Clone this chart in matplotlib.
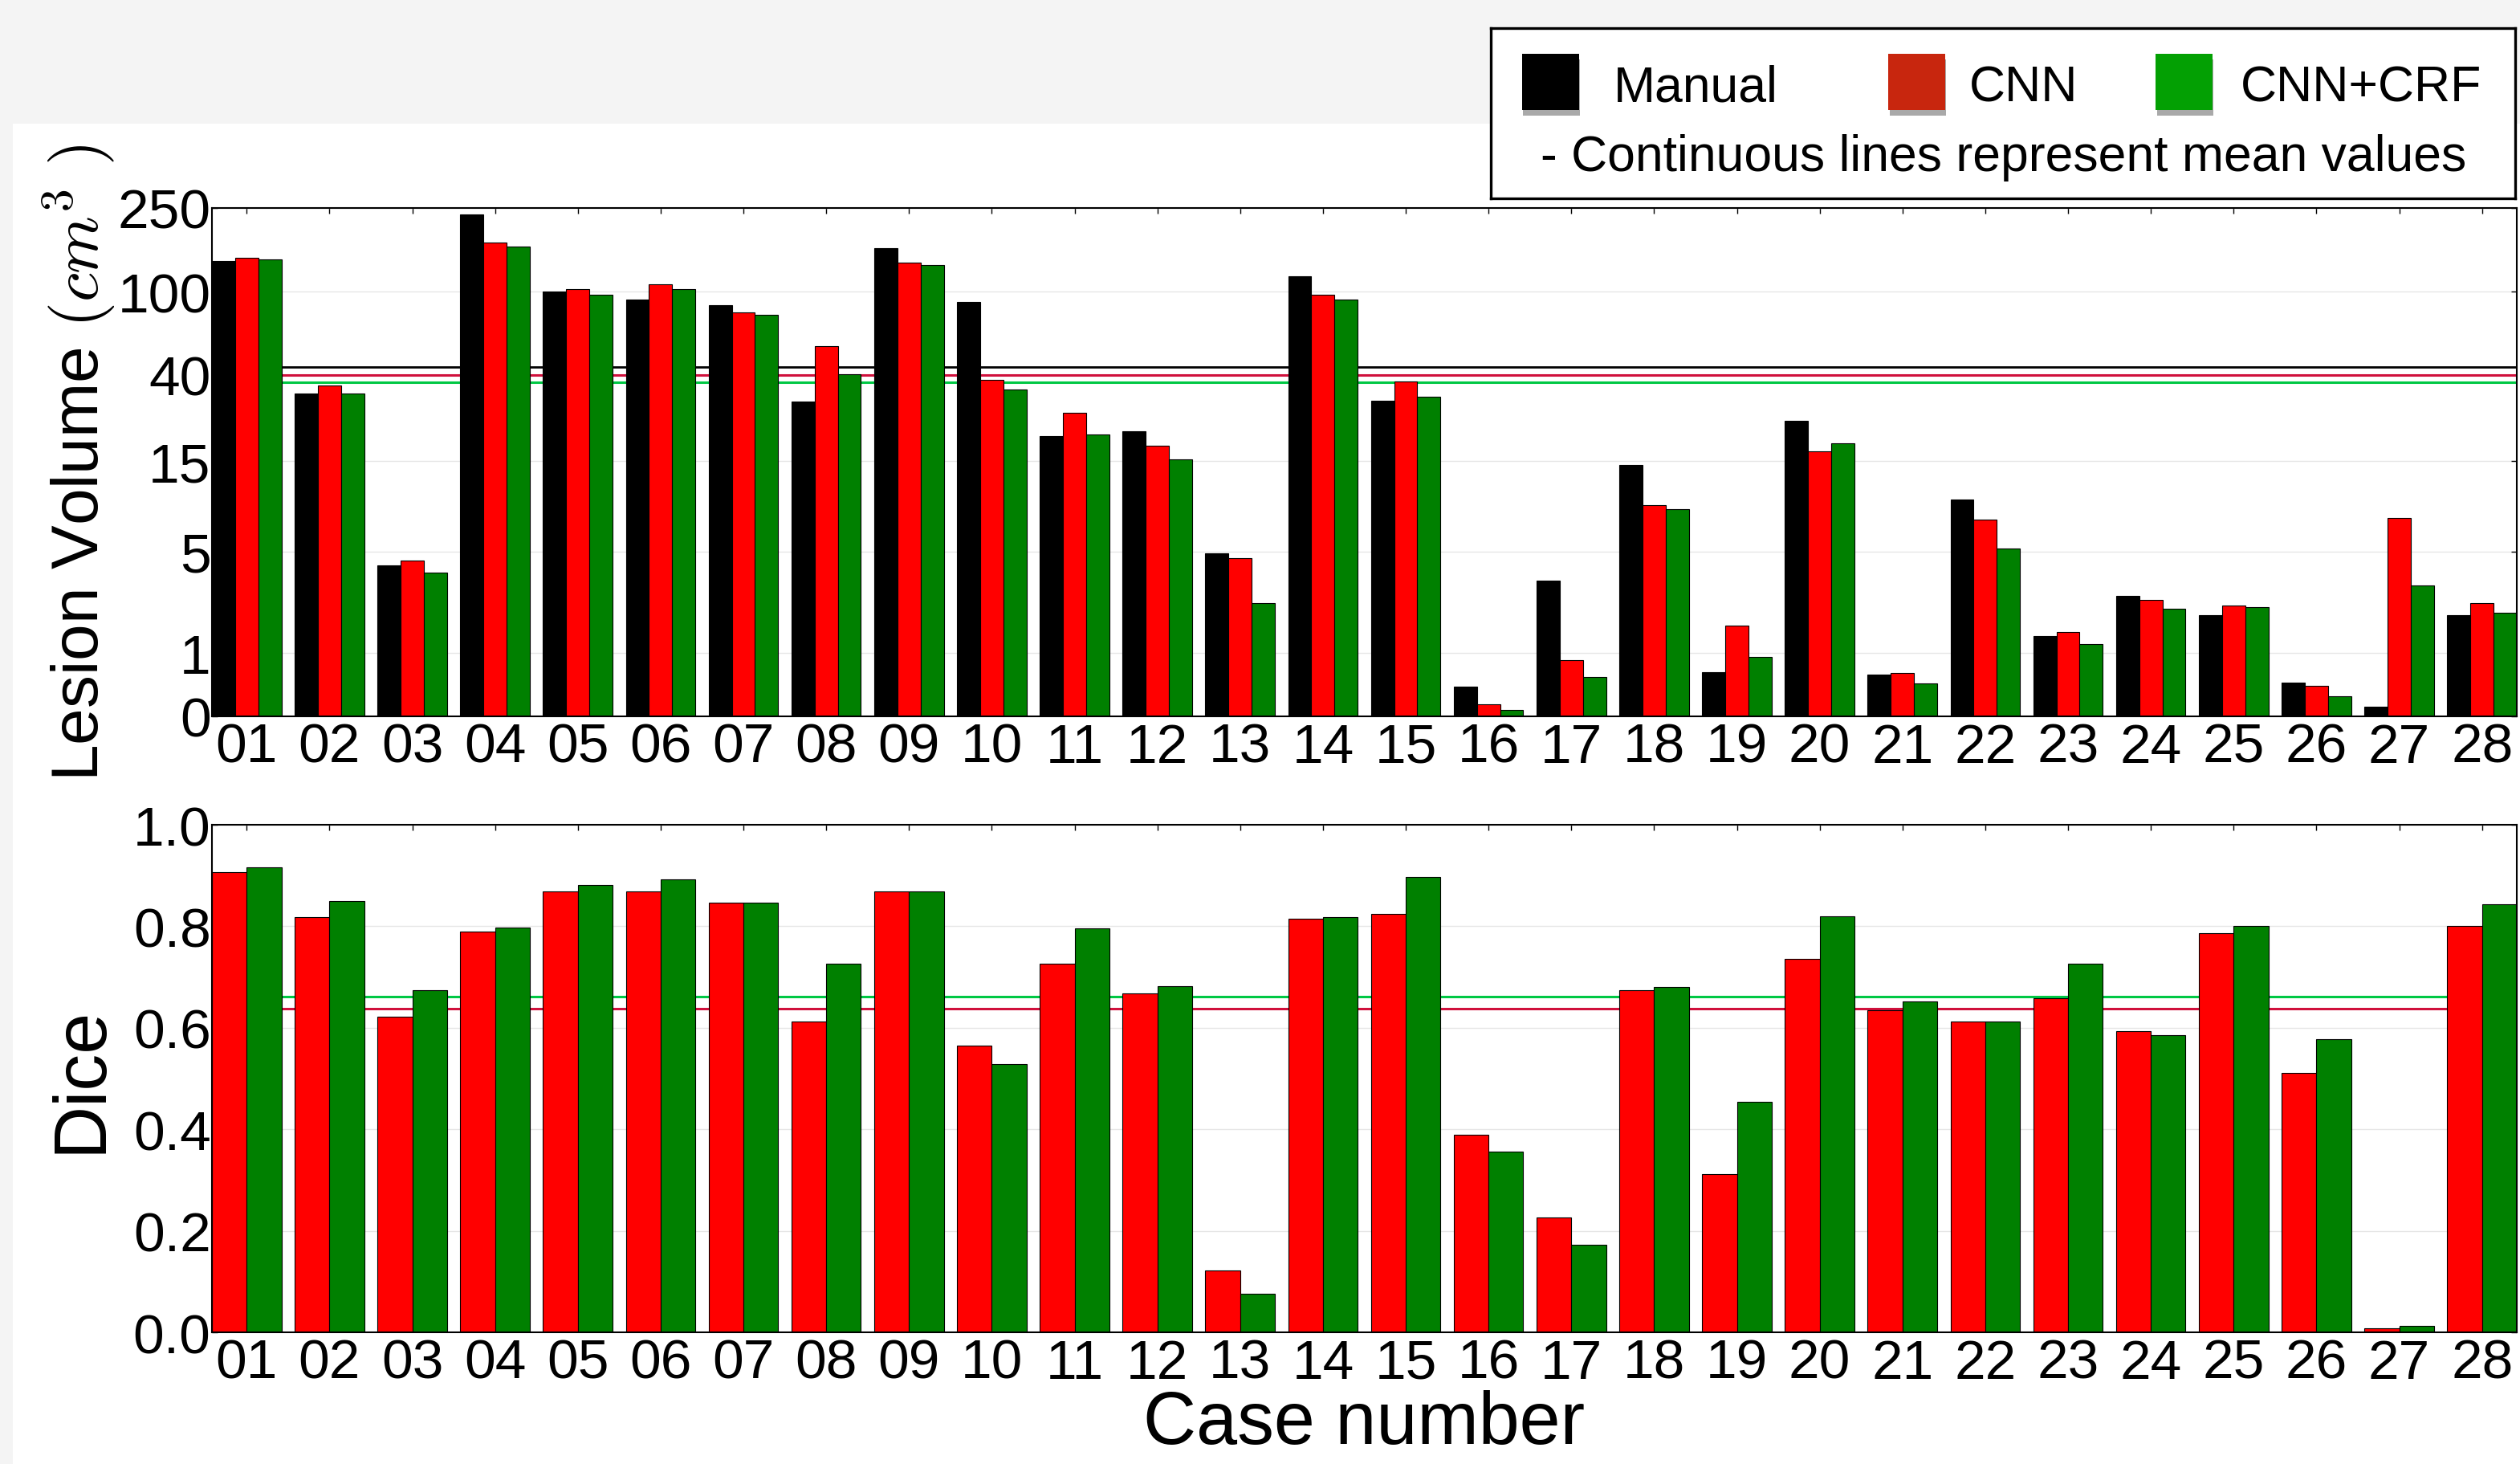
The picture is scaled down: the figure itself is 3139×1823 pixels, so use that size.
import numpy as np
import matplotlib
matplotlib.use('Agg')
import matplotlib.pyplot as plt
from matplotlib.patches import Rectangle
import matplotlib.patheffects as pe

plt.rcParams['font.family'] = ['Liberation Sans', 'DejaVu Sans']
plt.rcParams['mathtext.fontset'] = 'cm'

cases = ['%02d' % i for i in range(1, 29)]

# lesion volumes (cm^3)
vol_manual = [140, 32.5, 4.16, 233, 100, 91.4, 86.2, 29.6, 161.6, 89.7,
              20.1, 21.2, 4.89, 118, 29.8, 0.38, 3.37, 14.3, 0.62, 23.9,
              0.58, 9.56, 1.39, 2.69, 2.01, 0.44, 0.11, 2.01]
vol_cnn = [144.5, 35.6, 4.46, 172, 103, 108.4, 79.5, 54.9, 138, 37.9,
           26.0, 18.0, 4.59, 96.8, 37.1, 0.14, 0.85, 8.96, 1.67, 16.8,
           0.60, 7.49, 1.50, 2.55, 2.33, 0.39, 7.6, 2.42]
vol_crf = [142, 32.3, 3.76, 163.7, 96.4, 103, 77.7, 40.1, 134.5, 33.8,
           20.35, 15.4, 2.42, 91.8, 31.3, 0.075, 0.535, 8.49, 0.90, 18.4,
           0.43, 5.19, 1.19, 2.21, 2.27, 0.24, 3.15, 2.09]

# dice scores
dice_cnn = [0.907, 0.818, 0.622, 0.789, 0.868, 0.868, 0.847, 0.612, 0.869, 0.565,
            0.726, 0.668, 0.122, 0.815, 0.824, 0.390, 0.226, 0.674, 0.312, 0.736,
            0.634, 0.612, 0.658, 0.594, 0.786, 0.511, 0.008, 0.800]
dice_crf = [0.916, 0.849, 0.674, 0.798, 0.881, 0.892, 0.847, 0.726, 0.869, 0.528,
            0.796, 0.682, 0.076, 0.818, 0.897, 0.356, 0.173, 0.680, 0.454, 0.819,
            0.652, 0.613, 0.726, 0.586, 0.800, 0.578, 0.012, 0.843]

vol_ticks = [0, 1, 5, 15, 40, 100, 250]

c_red = '#ff0000'
c_green = '#008000'
c_mean_red = '#d0103c'
c_mean_green = '#00c844'

x = np.arange(len(cases))

fig = plt.figure(figsize=(31.39, 18.24), dpi=100, facecolor='#f4f4f4')
# white panel behind the plots
fig.patches.append(Rectangle((16 / 3139, 0), 1, 1 - 155 / 1824,
                             transform=fig.transFigure, facecolor='white',
                             edgecolor='none', zorder=-10))

ax1 = fig.add_axes([0.0841, 0.51042, 0.91462, 0.34704])
ax2 = fig.add_axes([0.0841, 0.08991, 0.91462, 0.34649])

def style(ax):
    ax.set_axisbelow(True)
    ax.grid(axis='y', color='#e6e6e6', linewidth=1)
    ax.tick_params(direction='in', top=True, right=True, length=5, width=1,
                   labelsize=50)
    ax.tick_params(axis='y', pad=1)
    ax.tick_params(axis='x', pad=5)
    for s in ax.spines.values():
        s.set_linewidth(1.5)
        s.set_zorder(5)
    ax.set_xticks(x)
    ax.set_xticklabels(cases)
    ax.set_xlim(-0.42, len(cases) - 1 + 0.42)
    ax.set_facecolor('white')

# lesion volume, log(1+v) axis
w = 0.28
ax1.set_yscale('function', functions=(np.log1p, np.expm1))
ax1.bar(x - w, vol_manual, w, color='k', edgecolor='k', linewidth=0.8, zorder=3)
ax1.bar(x, vol_cnn, w, color=c_red, edgecolor='k', linewidth=0.8, zorder=3)
ax1.bar(x + w, vol_crf, w, color=c_green, edgecolor='k', linewidth=0.8, zorder=3)
ax1.axhline(np.mean(vol_manual), color='k', linewidth=2, zorder=2)
ax1.axhline(np.mean(vol_cnn), color=c_mean_red, linewidth=2.2, zorder=2)
ax1.axhline(np.mean(vol_crf), color=c_mean_green, linewidth=2.2, zorder=2)
ax1.set_ylim(0, 250)
ax1.set_yticks(vol_ticks)
ax1.set_yticklabels([str(t) for t in vol_ticks])
ax1.yaxis.set_minor_locator(matplotlib.ticker.NullLocator())
style(ax1)
ax1.set_ylabel(r'Lesion Volume $(cm^3\ )$', fontsize=59)
ax1.yaxis.set_label_coords(-0.041, 0.5)

# dice
w2 = 0.42
ax2.bar(x - w2 / 2, dice_cnn, w2, color=c_red, edgecolor='k', linewidth=0.8, zorder=3)
ax2.bar(x + w2 / 2, dice_crf, w2, color=c_green, edgecolor='k', linewidth=0.8, zorder=3)
ax2.axhline(np.mean(dice_cnn), color=c_mean_red, linewidth=2.2, zorder=2)
ax2.axhline(np.mean(dice_crf), color=c_mean_green, linewidth=2.2, zorder=2)
ax2.set_ylim(0, 1.0)
ax2.set_yticks(np.arange(0, 1.01, 0.2))
ax2.set_yticklabels(['%.1f' % t for t in np.arange(0, 1.01, 0.2)])
style(ax2)
ax2.set_ylabel('Dice', fontsize=66)
ax2.yaxis.set_label_coords(-0.0415, 0.5)
ax2.set_xlabel('Case number', fontsize=66, labelpad=0)

# legend box
lax = fig.add_axes([0.5916, 0.86404, 0.4065, 0.11622])
lax.set_xlim(0, 1)
lax.set_ylim(0, 1)
lax.set_xticks([])
lax.set_yticks([])
lax.set_facecolor('white')
for s in lax.spines.values():
    s.set_linewidth(2.4)
shadow = [pe.SimplePatchShadow(offset=(1, -5), shadow_rgbFace='#555555', alpha=0.5), pe.Normal()]
entries = [('Manual', 'k', 0.0306, 0.120),
           ('CNN', '#c8260e', 0.388, 0.467),
           ('CNN+CRF', '#03a003', 0.649, 0.732)]
for name, col, px, tx in entries:
    r = Rectangle((px, 0.519), 0.0555, 0.33, facecolor=col, edgecolor='none',
                  transform=lax.transAxes)
    r.set_path_effects(shadow)
    lax.add_patch(r)
    lax.text(tx, 0.571, name, fontsize=45, va='baseline', ha='left',
             transform=lax.transAxes)
lax.text(0.0486, 0.165, '- Continuous lines represent mean values', fontsize=45,
         va='baseline', ha='left', transform=lax.transAxes)

fig.savefig('out.png', dpi=100, facecolor=fig.get_facecolor())
